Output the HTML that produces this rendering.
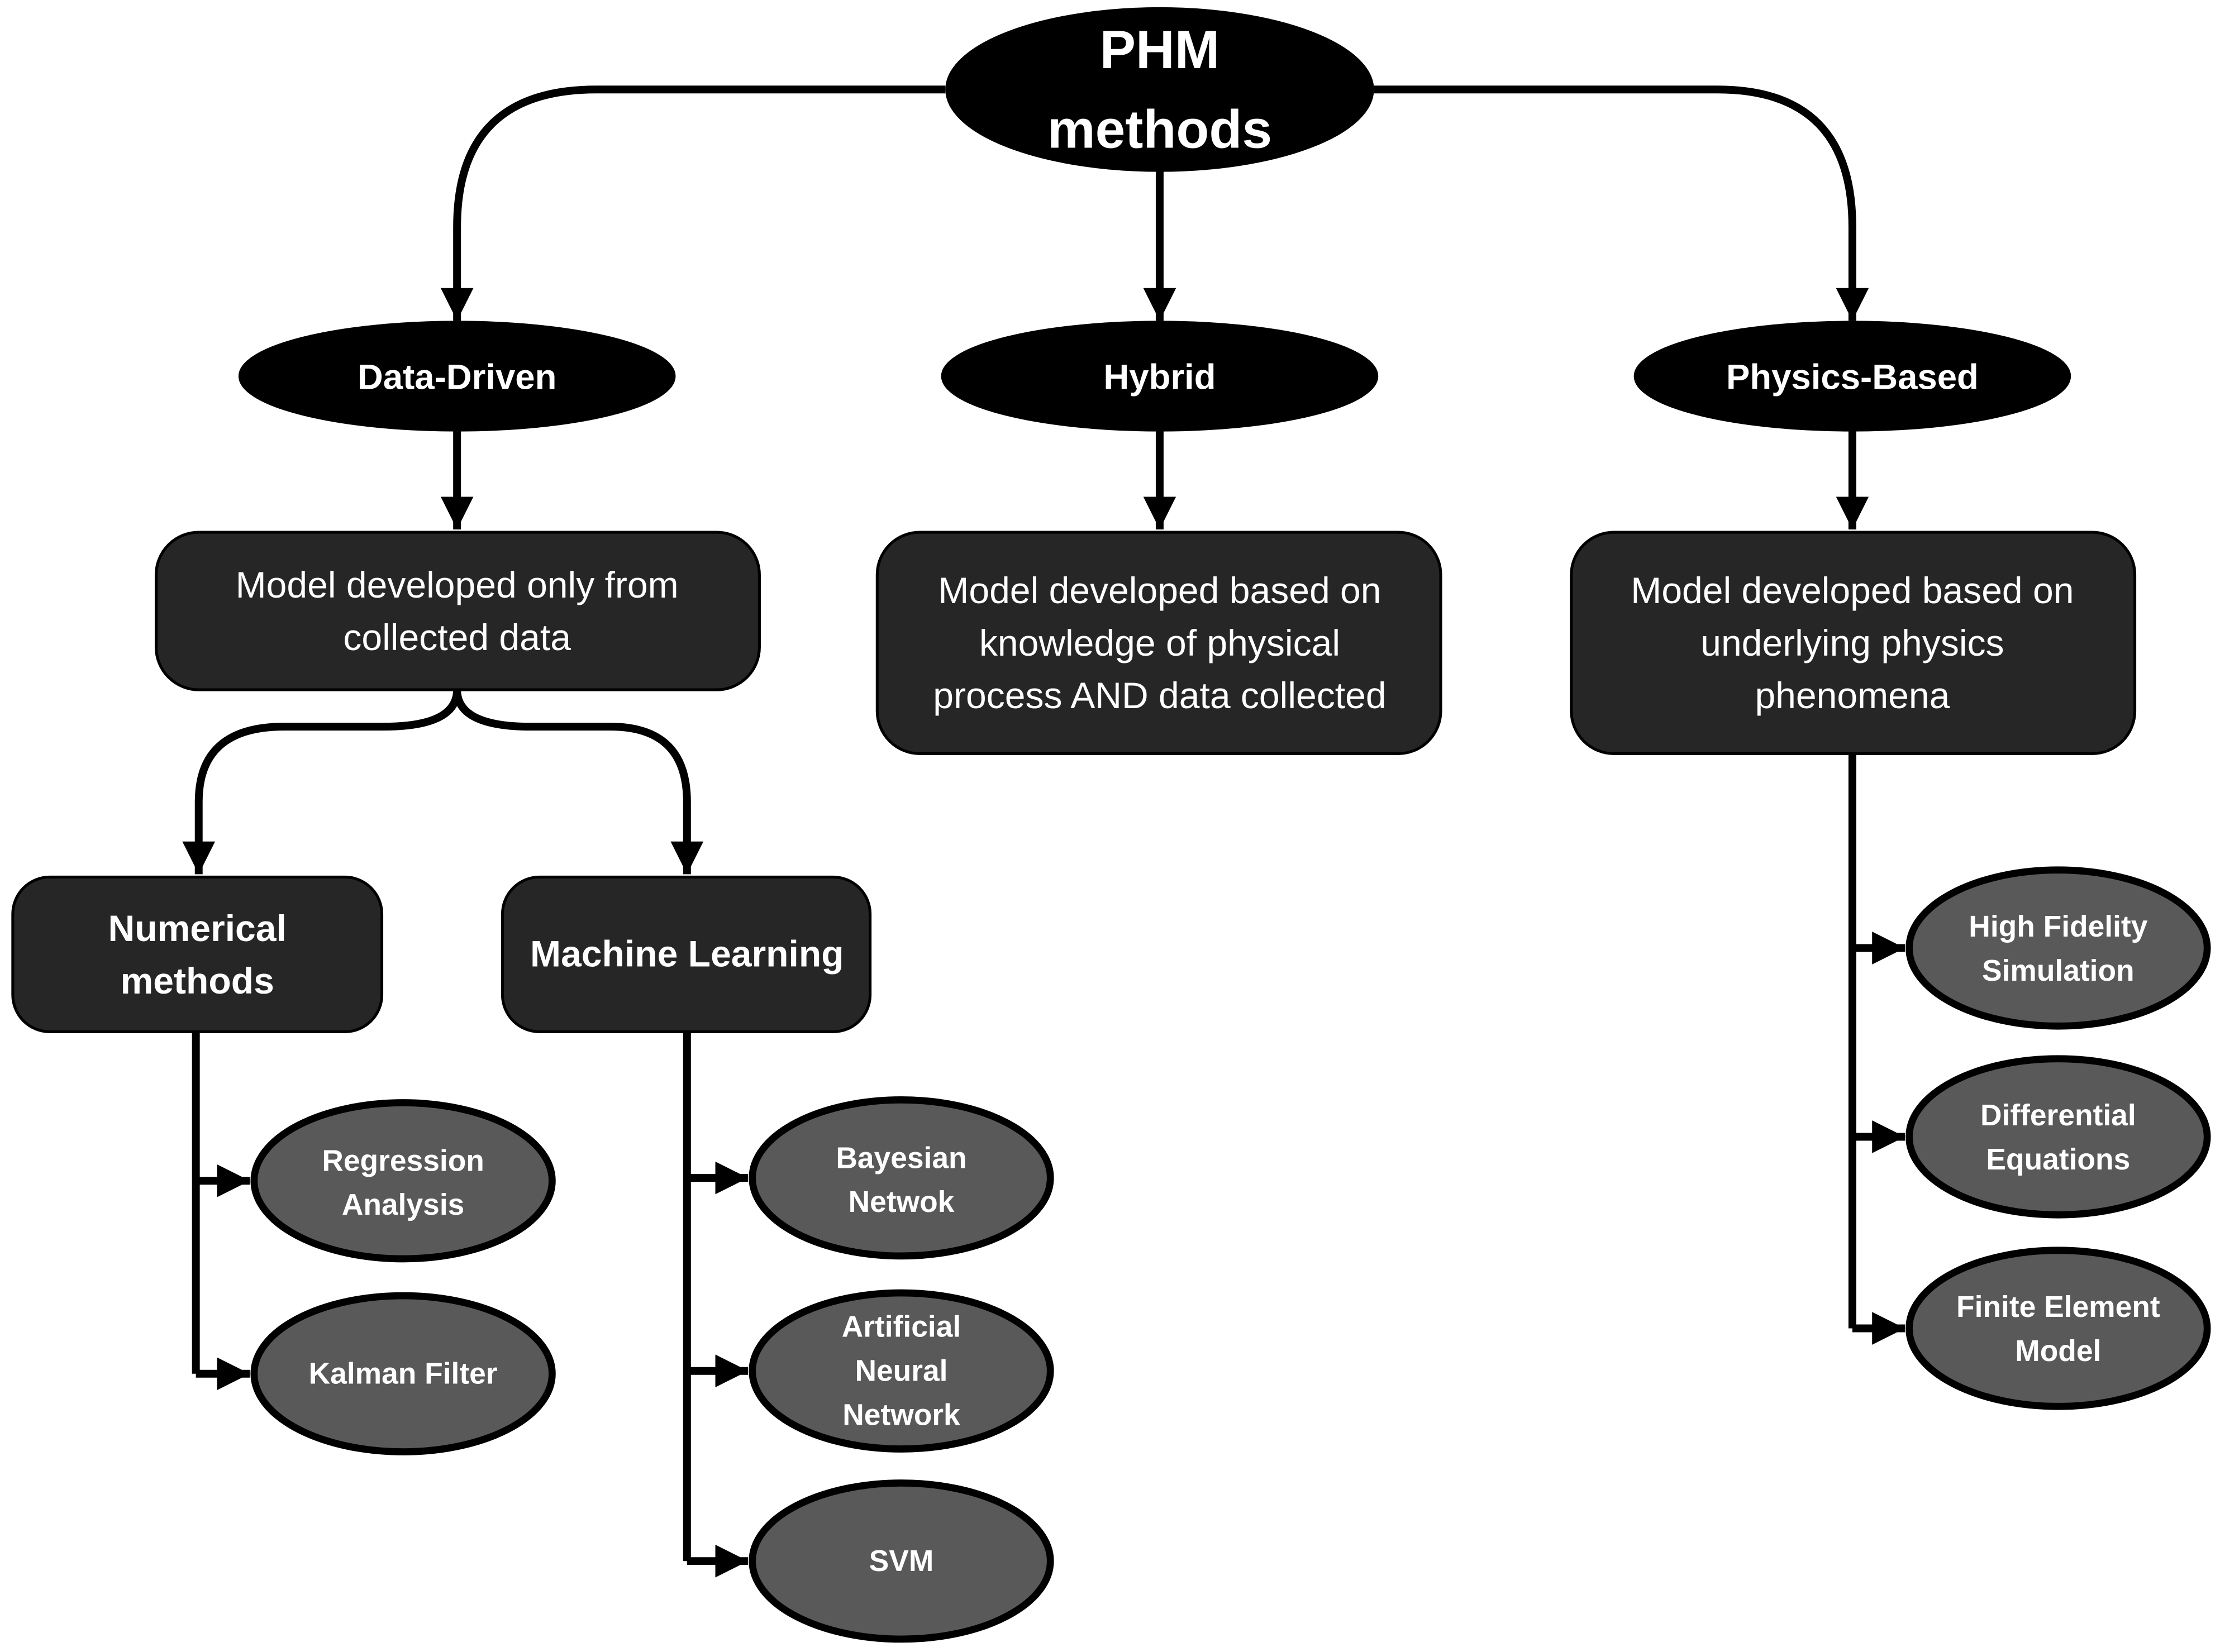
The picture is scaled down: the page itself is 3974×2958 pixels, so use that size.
<!DOCTYPE html>
<html><head><meta charset="utf-8"><style>html,body{margin:0;padding:0;background:#fff}svg{display:block}</style></head>
<body>
<svg width="3974" height="2958" viewBox="0 0 1564 1164" xmlns="http://www.w3.org/2000/svg" font-family="'Liberation Sans', sans-serif">
<defs>
<marker id="a" viewBox="0 0 10 10" refX="10" refY="5" markerWidth="4.2" markerHeight="4.4" orient="auto" markerUnits="strokeWidth"><path d="M0,0 L10,5 L0,10 Z" fill="#000"/></marker>
</defs>
<g fill="none" stroke="#000" stroke-width="5.5" stroke-linejoin="round">
<path d="M666,63 L420,63 Q322,63 322,160 L322,226" marker-end="url(#a)"/>
<path d="M968,63 L1210,63 Q1305,63 1305,160 L1305,226" marker-end="url(#a)"/>
<path d="M817,118 L817,226" marker-end="url(#a)"/>
<path d="M322,303 L322,373" marker-end="url(#a)"/>
<path d="M817,303 L817,373" marker-end="url(#a)"/>
<path d="M1305,303 L1305,373" marker-end="url(#a)"/>
<path d="M322,486 Q322,512 270,512 L200,512 Q140,512 140,565 L140,616" marker-end="url(#a)"/>
<path d="M322,486 Q322,512 374,512 L430,512 Q484,512 484,565 L484,616" marker-end="url(#a)"/>
<path d="M138,727 L138,968"/>
<path d="M138,832 L176,832" marker-end="url(#a)"/>
<path d="M138,968 L176,968" marker-end="url(#a)"/>
<path d="M484,727 L484,1100"/>
<path d="M484,830 L527,830" marker-end="url(#a)"/>
<path d="M484,966 L527,966" marker-end="url(#a)"/>
<path d="M484,1100 L527,1100" marker-end="url(#a)"/>
<path d="M1305,531 L1305,936"/>
<path d="M1305,668 L1342,668" marker-end="url(#a)"/>
<path d="M1305,801 L1342,801" marker-end="url(#a)"/>
<path d="M1305,936 L1342,936" marker-end="url(#a)"/>
</g>
<g stroke="#000" stroke-width="2">
<ellipse cx="817" cy="63" rx="150" ry="57" fill="#000"/>
<ellipse cx="322" cy="265" rx="153" ry="38" fill="#000"/>
<ellipse cx="817" cy="265" rx="153" ry="38" fill="#000"/>
<ellipse cx="1305" cy="265" rx="153" ry="38" fill="#000"/>
<rect x="110" y="375" width="425" height="111" rx="30" fill="#262626"/>
<rect x="618" y="375" width="397" height="156" rx="30" fill="#262626"/>
<rect x="1107" y="375" width="397" height="156" rx="30" fill="#262626"/>
<rect x="9" y="618" width="260" height="109" rx="26" fill="#262626"/>
<rect x="354" y="618" width="259" height="109" rx="26" fill="#262626"/>
</g>
<g stroke="#000" stroke-width="5" fill="#595959">
<ellipse cx="284" cy="832" rx="105" ry="55"/>
<ellipse cx="284" cy="968" rx="105" ry="55"/>
<ellipse cx="635" cy="830" rx="105" ry="55"/>
<ellipse cx="635" cy="966" rx="105" ry="55"/>
<ellipse cx="635" cy="1100" rx="105" ry="55"/>
<ellipse cx="1450" cy="668" rx="105" ry="55"/>
<ellipse cx="1450" cy="801" rx="105" ry="55"/>
<ellipse cx="1450" cy="936" rx="105" ry="55"/>
</g>
<g fill="#fff" text-anchor="middle" font-weight="bold">
<text x="817" y="48" font-size="38">PHM</text>
<text x="817" y="104" font-size="38">methods</text>
<text x="322" y="274" font-size="25">Data-Driven</text>
<text x="817" y="274" font-size="25">Hybrid</text>
<text x="1305" y="274" font-size="25">Physics-Based</text>
<text x="139" y="663" font-size="26">Numerical</text>
<text x="139" y="700" font-size="26">methods</text>
<text x="484" y="681" font-size="26">Machine Learning</text>
<g font-size="21">
<text x="284" y="825">Regression</text><text x="284" y="856">Analysis</text>
<text x="284" y="975">Kalman Filter</text>
<text x="635" y="823">Bayesian</text><text x="635" y="854">Netwok</text>
<text x="635" y="942">Artificial</text><text x="635" y="973">Neural</text><text x="635" y="1004">Network</text>
<text x="635" y="1107">SVM</text>
<text x="1450" y="660">High Fidelity</text><text x="1450" y="691">Simulation</text>
<text x="1450" y="793">Differential</text><text x="1450" y="824">Equations</text>
<text x="1450" y="928">Finite Element</text><text x="1450" y="959">Model</text>
</g>
</g>
<g fill="#fff" text-anchor="middle" font-size="26">
<text x="322" y="421">Model developed only from</text>
<text x="322" y="458">collected data</text>
<text x="817" y="425">Model developed based on</text>
<text x="817" y="462">knowledge of physical</text>
<text x="817" y="499">process AND data collected</text>
<text x="1305" y="425">Model developed based on</text>
<text x="1305" y="462">underlying physics</text>
<text x="1305" y="499">phenomena</text>
</g>
</svg>
</body></html>
